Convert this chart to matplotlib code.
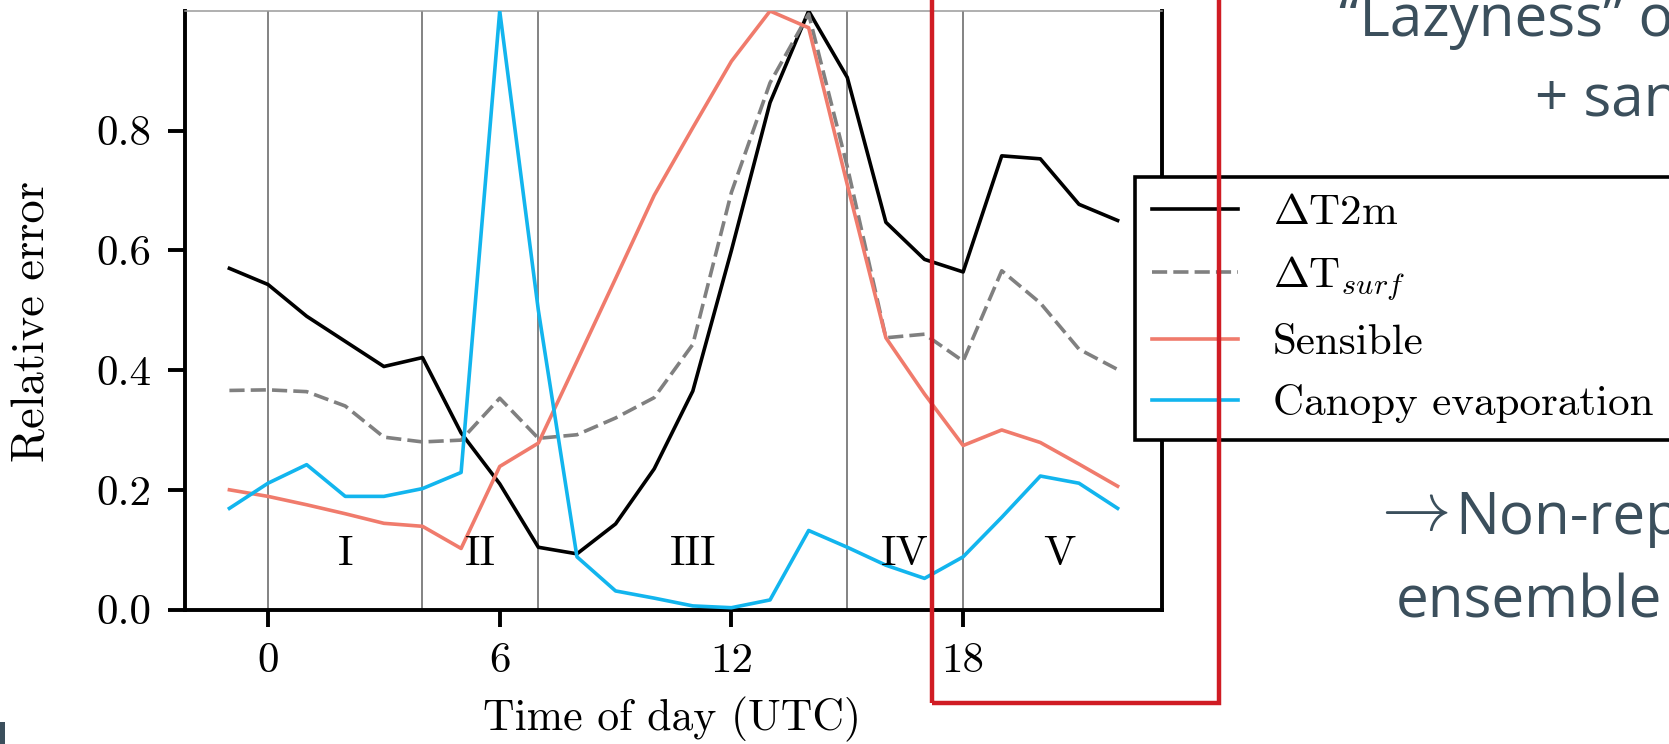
import matplotlib
matplotlib.use("Agg")
import matplotlib.pyplot as plt
from matplotlib.patches import Rectangle

# ---------------- data ----------------
hours = list(range(-1, 23))
t2m = [0.570, 0.543, 0.490, 0.448, 0.406, 0.421, 0.295, 0.210, 0.104, 0.093, 0.143, 0.235,
       0.365, 0.600, 0.847, 1.000, 0.889, 0.647, 0.585, 0.564, 0.758, 0.753, 0.677, 0.650]
tsurf = [0.366, 0.367, 0.364, 0.340, 0.288, 0.280, 0.283, 0.353, 0.286, 0.292, 0.320, 0.354,
         0.443, 0.697, 0.880, 0.995, 0.740, 0.454, 0.460, 0.415, 0.566, 0.512, 0.435, 0.401]
sensible = [0.200, 0.189, 0.175, 0.160, 0.144, 0.139, 0.102, 0.239, 0.278, 0.415, 0.553, 0.692,
            0.805, 0.916, 1.000, 0.972, 0.710, 0.454, 0.360, 0.274, 0.300, 0.279, 0.243, 0.206]
canopy = [0.169, 0.211, 0.242, 0.189, 0.189, 0.202, 0.229, 1.000, 0.500, 0.088, 0.031, 0.019,
          0.006, 0.003, 0.016, 0.132, 0.104, 0.074, 0.052, 0.088, 0.154, 0.223, 0.211, 0.169]

series_labels = [r"$\Delta$T2m", r"$\Delta$T$_{surf}$", "Sensible", "Canopy evaporation"]
regime_bounds = [0, 4, 7, 15, 18]
regime_names = ["I", "II", "III", "IV", "V"]
regime_pos = [2, 5.5, 11, 16.5, 20.5]
xticks = [0, 6, 12, 18]
yticks = [0.0, 0.2, 0.4, 0.6, 0.8]
ytick_labels = ["0.0", "0.2", "0.4", "0.6", "0.8"]

# ---------------- style ----------------
plt.rcParams["font.family"] = "serif"
plt.rcParams["font.serif"] = ["cmr10"]
plt.rcParams["mathtext.fontset"] = "cm"
plt.rcParams["axes.formatter.use_mathtext"] = True

FS = 31
W, H = 1669, 744
AX_L, AX_R, AX_T, AX_B = 185, 1162, 11, 609.5
fig = plt.figure(figsize=(W / 100, H / 100), dpi=100)
ax = fig.add_axes([AX_L / W, 1 - AX_B / H, (AX_R - AX_L) / W, (AX_B - AX_T) / H])

for b in regime_bounds:
    ax.axvline(b, color="#7a7a7a", lw=1.3, zorder=1)

lw = 2.6
ax.plot(hours, t2m, color="black", lw=lw, label=series_labels[0], zorder=3)
ax.plot(hours, tsurf, color="#808080", lw=lw, dashes=(4.2, 1.7), label=series_labels[1], zorder=3)
ax.plot(hours, sensible, color="#f07b6c", lw=lw, label=series_labels[2], zorder=3)
ax.plot(hours, canopy, color="#12b5ee", lw=lw, label=series_labels[3], zorder=3)

for name, xp in zip(regime_names, regime_pos):
    ax.text(xp, 0.093, name, ha="center", va="center", fontsize=FS, zorder=4)

ax.set_ylim(0, 1.0)
ax.set_xticks(xticks)
ax.set_xticklabels([str(v) for v in xticks])
ax.set_yticks(yticks)
ax.set_yticklabels(ytick_labels)
ax.tick_params(axis="both", labelsize=FS, length=12, width=2.8, pad=12, direction="out")
for s in ["left", "bottom", "right"]:
    ax.spines[s].set_linewidth(2.8)
    ax.spines[s].set_color("black")
ax.spines["top"].set_linewidth(1.1)
ax.spines["top"].set_color("#9a9a9a")

ax.set_xlabel("Time of day (UTC)", fontsize=31.5)
ax.xaxis.set_label_coords(0.4985, (AX_B - 697) / (AX_B - AX_T))
ax.set_ylabel("Relative error", fontsize=33.5)
ax.yaxis.set_label_coords((53 - AX_L) / (AX_R - AX_L), (AX_B - 321) / (AX_B - AX_T))

leg = ax.legend(loc="upper left", bbox_to_anchor=(1135 / W, 1 - 177 / H),
                bbox_transform=fig.transFigure, borderaxespad=0, fontsize=FS,
                fancybox=False, framealpha=1, edgecolor="black",
                handlelength=2.0, handletextpad=0.8, labelspacing=0.5, borderpad=0.4)
leg.get_frame().set_linewidth(2.6)
leg.set_zorder(10)

# red highlight box
fig.add_artist(Rectangle((932 / W, 1 - 702.5 / H), (1219 - 932) / W, 0.2 + 702.5 / H,
                         transform=fig.transFigure, fill=False, edgecolor="#d01c24",
                         lw=3.2, zorder=20, clip_on=False))

# slide text
tc = "#3b4f5c"
sfont = ["Open Sans", "DejaVu Sans"]
fig.text(1339 / W, 1 - 36 / H, "\u201cLazyness\u201d o", fontsize=42, color=tc, family=sfont, va="baseline")
fig.text(1535 / W, 1 - 116 / H, "+ san", fontsize=42, color=tc, family=sfont, va="baseline")
fig.text(1369 / W, 1 - 530 / H, r"$\rightarrow$", fontsize=50, color=tc, va="baseline")
fig.text(1455 / W, 1 - 534 / H, "Non-rep", fontsize=42, color=tc, family=sfont, va="baseline")
fig.text(1396 / W, 1 - 617 / H, "ensemble", fontsize=42, color=tc, family=sfont, va="baseline")

fig.add_artist(Rectangle((0, 0), 5 / W, 22 / H, transform=fig.transFigure,
                         color=tc, lw=0, zorder=20))

fig.savefig("out.png", dpi=100)
